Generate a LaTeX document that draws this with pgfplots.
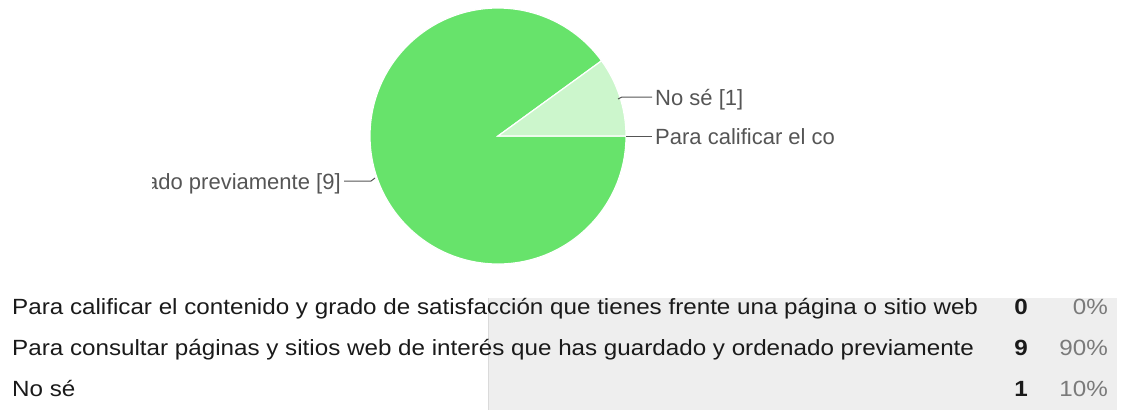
\documentclass[border=0pt]{standalone}
\usepackage{pgfplots}
\pgfplotsset{compat=1.18}
\usepackage{pgfplotstable}
\usepackage{fontspec}
\setmainfont{Liberation Sans}
\newfontfamily\tablefont[FakeStretch=1.1]{Liberation Sans}

\definecolor{sliceA}{HTML}{3366CC}
\definecolor{sliceB}{HTML}{67E36B}
\definecolor{sliceC}{HTML}{CCF6CC}
\definecolor{boxgray}{HTML}{EEEEEE}
\definecolor{boxline}{HTML}{DADADA}
\definecolor{labelgray}{HTML}{555555}
\definecolor{pctgray}{HTML}{7A7A7A}
\definecolor{textblack}{HTML}{1A1A1A}

% answers and counts
\pgfplotstableread[col sep=comma]{
label,count
Para calificar el contenido y grado de satisfacción que tienes frente una página o sitio web,0
Para consultar páginas y sitios web de interés que has guardado y ordenado previamente,9
No sé,1
}\datatable

\pgfplotstablegetrowsof{\datatable}
\pgfmathtruncatemacro\lastrow{\pgfplotsretval-1}
\def\total{0}
\pgfplotsforeachungrouped \i in {0,...,\lastrow}{%
  \pgfplotstablegetelem{\i}{count}\of\datatable
  \pgfmathsetmacro\total{\total+\pgfplotsretval}%
}

% pie geometry in pixels
\def\cx{498}
\def\cy{136}
\def\rad{128}

\begin{document}
\begin{tikzpicture}
\begin{axis}[
  x=1pt, y=1pt,
  xmin=0, xmax=1126, ymin=0, ymax=410,
  y dir=reverse,
  hide axis, clip=false,
]
\path (axis cs:0,0) rectangle (axis cs:1126,410);

% pie slices, clockwise from the east
\xdef\curang{0}
\pgfplotsforeachungrouped \i in {0,...,\lastrow}{%
  \pgfplotstablegetelem{\i}{count}\of\datatable
  \pgfmathsetmacro\sweep{360*\pgfplotsretval/\total}%
  \pgfmathsetmacro\endang{\curang-\sweep}%
  \pgfmathsetmacro\sx{\cx+\rad*cos(\curang)}%
  \pgfmathsetmacro\sy{\cy-\rad*sin(\curang)}%
  \ifcase\i \def\slicecol{sliceA}\or \def\slicecol{sliceB}\or \def\slicecol{sliceC}\fi
  \edef\doslice{\noexpand\filldraw[fill=\slicecol,draw=white,line width=1.2pt]
    (axis cs:\cx,\cy) -- (axis cs:\sx,\sy)
    arc[start angle=\curang,end angle=\endang,radius=\rad pt] -- cycle;}%
  \doslice
  \xdef\curang{\endang}%
}

% leader lines
\draw[labelgray,line width=1pt] (axis cs:618,99) -- (axis cs:622,97) -- (axis cs:652,97);
\draw[labelgray,line width=1pt] (axis cs:626,136) -- (axis cs:652,136);
\draw[labelgray,line width=1pt] (axis cs:375,178) -- (axis cs:371,181) -- (axis cs:344,181);

% pie labels (cut off like the reference)
\pgfplotstablegetelem{2}{label}\of\datatable \edef\labC{\pgfplotsretval}
\pgfplotstablegetelem{2}{count}\of\datatable \edef\cntC{\pgfplotsretval}
\pgfplotstablegetelem{0}{label}\of\datatable \edef\labA{\pgfplotsretval}
\pgfplotstablegetelem{0}{count}\of\datatable \edef\cntA{\pgfplotsretval}
\pgfplotstablegetelem{1}{label}\of\datatable \edef\labB{\pgfplotsretval}
\pgfplotstablegetelem{1}{count}\of\datatable \edef\cntB{\pgfplotsretval}
\begin{scope}
  \clip (axis cs:0,0) rectangle (axis cs:835,270);
  \node[anchor=base west,inner sep=0pt,text=labelgray,font=\fontsize{22}{26}\selectfont]
    at (axis cs:655,105) {\labC\ [\cntC]};
  \node[anchor=base west,inner sep=0pt,text=labelgray,font=\fontsize{22}{26}\selectfont]
    at (axis cs:655,144) {\labA\ [\cntA]};
\end{scope}
\begin{scope}
  \clip (axis cs:152,0) rectangle (axis cs:835,270);
  \node[anchor=base east,inner sep=0pt,text=labelgray,font=\fontsize{22}{26}\selectfont]
    at (axis cs:341,189) {\labB\ [\cntB]};
\end{scope}

% summary table
\fill[boxgray] (axis cs:488,298) rectangle (axis cs:1117,410);
\draw[boxline,line width=1pt] (axis cs:488,298) -- (axis cs:488,410);
\pgfplotsforeachungrouped \i in {0,...,\lastrow}{%
  \pgfplotstablegetelem{\i}{label}\of\datatable \edef\rowlab{\pgfplotsretval}%
  \pgfplotstablegetelem{\i}{count}\of\datatable \edef\rowcnt{\pgfplotsretval}%
  \pgfmathtruncatemacro\rowpct{round(100*\rowcnt/\total)}%
  \pgfmathsetmacro\rowy{314+41*\i}%
  \edef\dorow{%
    \noexpand\node[anchor=base west,inner sep=0pt,text=textblack,font=\noexpand\tablefont\noexpand\fontsize{22}{26}\noexpand\selectfont]
      at (axis cs:12,\rowy) {\rowlab};
    \noexpand\node[anchor=base east,inner sep=0pt,text=textblack,font=\noexpand\tablefont\noexpand\fontsize{22}{26}\noexpand\selectfont\noexpand\bfseries]
      at (axis cs:1028,\rowy) {\rowcnt};
    \noexpand\node[anchor=base east,inner sep=0pt,text=pctgray,font=\noexpand\tablefont\noexpand\fontsize{22}{26}\noexpand\selectfont]
      at (axis cs:1108,\rowy) {\rowpct\noexpand\%};
  }%
  \dorow
}
\end{axis}
\end{tikzpicture}
\end{document}
